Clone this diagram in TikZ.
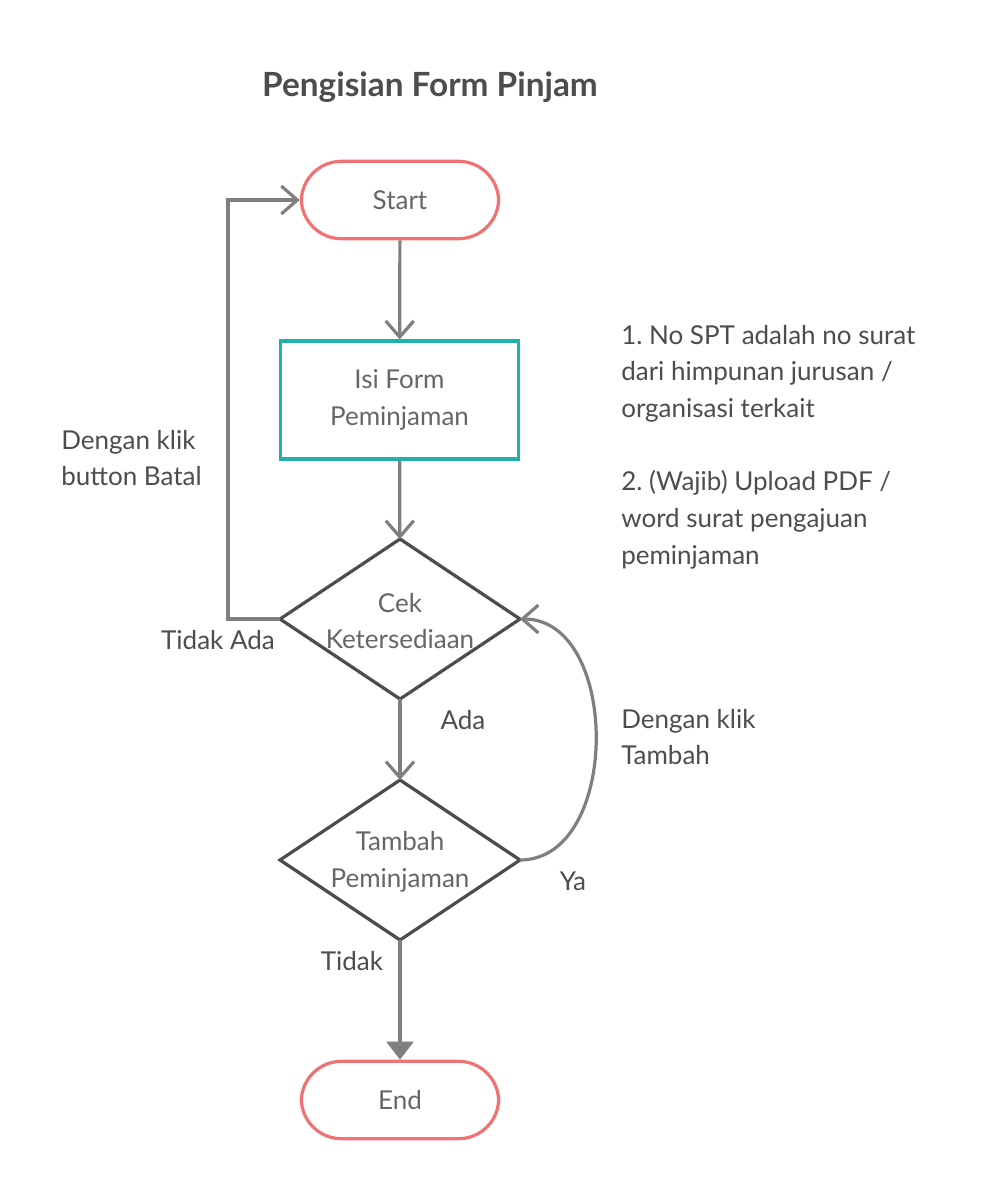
\documentclass[tikz,border=0pt]{standalone}
\usepackage{fontspec}
\setmainfont{Lato}
\frenchspacing
\usetikzlibrary{arrows.meta,shapes.geometric}
\definecolor{coral}{HTML}{F07272}
\definecolor{tealc}{HTML}{22B0AA}
\definecolor{darkln}{HTML}{4D4D4D}
\definecolor{conn}{HTML}{7F7F7F}
\definecolor{nodetxt}{HTML}{666666}
\definecolor{lbltxt}{HTML}{4D4D4D}
\tikzset{
  txtfont/.style={font=\fontsize{19.5}{27.5}\selectfont},
  terminal/.style={draw=coral, line width=2.4pt, rounded corners=30pt, minimum width=148pt, minimum height=58pt, inner sep=0pt, text=nodetxt, txtfont},
  procbox/.style={draw=tealc, line width=2.4pt, minimum width=179pt, minimum height=88.5pt, inner sep=0pt, align=center, text=nodetxt, txtfont},
  decision/.style={draw=darkln, line width=2.4pt, diamond, minimum width=180pt, minimum height=120pt, inner sep=0pt, outer sep=0pt},
  dectext/.style={align=center, text=nodetxt, inner sep=0pt, txtfont},
  lbl/.style={align=left, text=lbltxt, inner sep=0pt, txtfont},
  conline/.style={draw=conn, line width=2.4pt},
  openarrow/.style={-{Straight Barb[length=12pt,width=21pt]}},
  filledarrow/.style={-{Triangle[length=13.5pt,width=20pt]}},
}
\begin{document}
\begin{tikzpicture}[x=0.75pt,y=-0.75pt]
\fill[white] (0,0) rectangle (1000,1180);
\useasboundingbox (0,0) rectangle (1000,1180);

\node[text=lbltxt, inner sep=0pt, font=\fontsize{25}{30}\selectfont\bfseries] (title) at (430,87) {Pengisian Form Pinjam};

\node[terminal] (start) at (400,200) {Start};
\node[procbox] (isi) at (399.5,400) {Isi Form\\Peminjaman};
\node[decision] (cek) at (400,619) {};
\node[dectext] (cektxt) at (400,621) {Cek\\Ketersediaan};
\node[decision] (tambah) at (400,860) {};
\node[dectext] (tambahtxt) at (400,862) {Tambah\\Peminjaman};
\node[terminal] (end) at (400,1100) {End};

\draw[conline, openarrow] (start) -- (isi);
\draw[conline, openarrow] (isi) -- (cek);
\draw[conline, openarrow] (cek) -- (tambah);
\draw[conline, filledarrow] (tambah) -- (end);
\draw[conline, openarrow] (cek.west) -- ++(-52,0) |- (start.west);
\draw[conline, openarrow] (tambah.east) .. controls +(101,0) and +(101,0) .. (cek.east);

\node[lbl, anchor=west] (batal) at (61,458) {Dengan klik\\button Batal};
\node[lbl] (tidakada) at (218,640) {Tidak Ada};
\node[lbl] (ada) at (463,720) {Ada};
\node[lbl, anchor=west] (klik) at (621,737) {Dengan klik\\Tambah};
\node[lbl] (ya) at (573,881) {Ya};
\node[lbl] (tidak) at (352,961) {Tidak};
\node[lbl, anchor=west] (notes) at (621,447) {1. No SPT adalah no surat\\dari himpunan jurusan /\\organisasi terkait\\[27.5pt]2. (Wajib) Upload PDF /\\word surat pengajuan\\peminjaman};
\end{tikzpicture}
\end{document}
